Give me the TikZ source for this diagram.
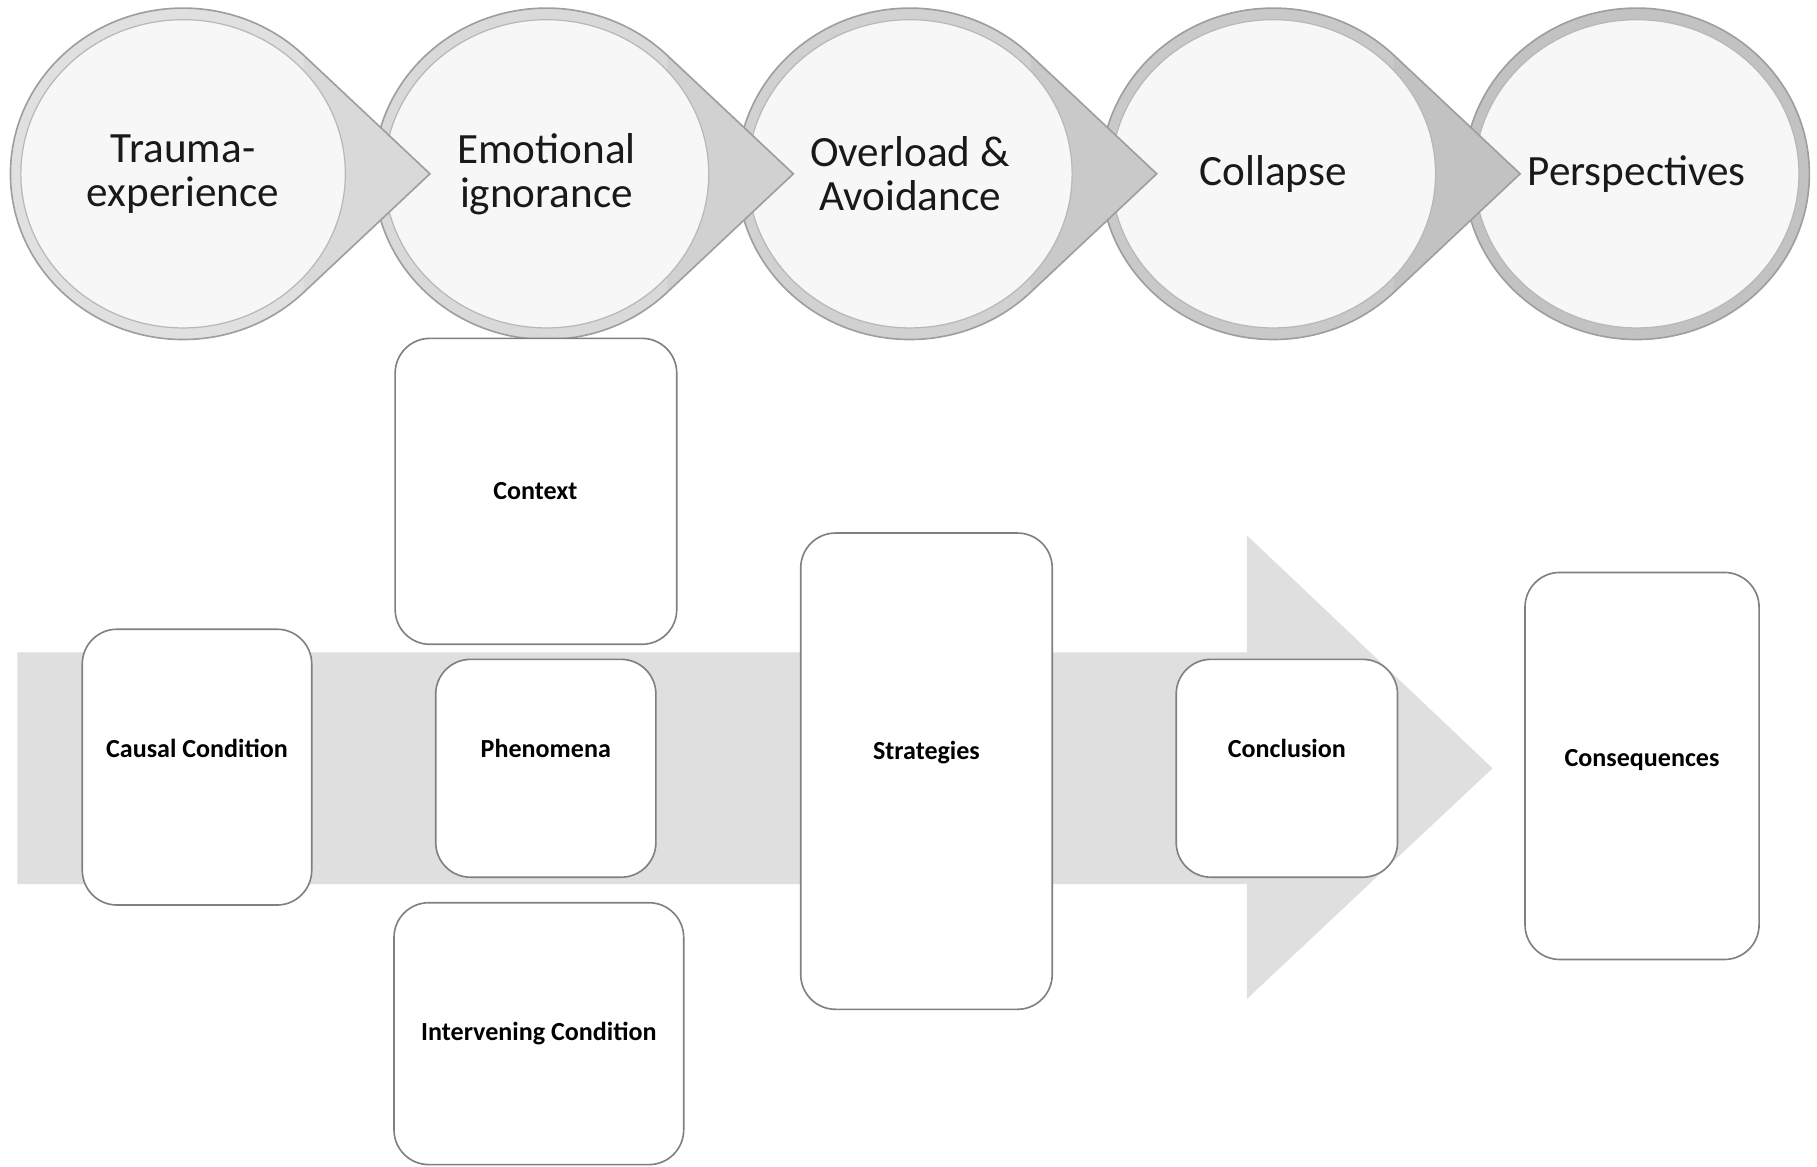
\documentclass[tikz,border=0pt]{standalone}
\usepackage{fontspec}
\setmainfont{Carlito}
\usetikzlibrary{positioning}

\tikzset{
  stage/.style={align=center, text=black!90, font=\fontsize{10.6}{10.8}\selectfont},
  card/.style={draw=black!50, line width=0.4pt, fill=white, rounded corners=0.3cm},
  cardtext/.style={text=black, font=\bfseries\fontsize{6.4}{7.7}\selectfont},
}

\begin{document}
\begin{tikzpicture}
\useasboundingbox (0,0) rectangle (15.68,10.07);

% stages on top, drawn from right to left so that every pointer lies over the next bubble
\foreach \i/\txt/\nm in {4/{Perspectives}/persp, 3/{Collapse}/collapse, 2/{Overload \&\\Avoidance}/overload, 1/{Emotional\\ignorance}/ignorance, 0/{Trauma-\\experience}/trauma}{
  \pgfmathsetmacro{\ring}{12+3*\i}
  \pgfmathsetmacro{\tip}{15+3*\i}
  \begin{scope}[shift={(1.58+3.136*\i,8.57)}]
    \ifnum\i<4
      \fill[black!\ring] (2.13,0) -- (45.6:1.49 and 1.43) arc[start angle=45.6, end angle=314.4, x radius=1.49, y radius=1.43] -- cycle;
      \fill[black!\tip] (2.13,0) -- (45.6:1.49 and 1.43) -- (-45.6:1.49 and 1.43) -- cycle;
      \draw[black!38, line width=0.4pt] (2.13,0) -- (45.6:1.49 and 1.43) arc[start angle=45.6, end angle=314.4, x radius=1.49, y radius=1.43] -- cycle;
    \else
      \filldraw[fill=black!\ring, draw=black!38, line width=0.4pt] (0,0) ellipse [x radius=1.49, y radius=1.43];
    \fi
    \filldraw[fill=black!3, draw=black!28, line width=0.3pt] (0,0) ellipse [x radius=1.40, y radius=1.33];
    \node[stage] (\nm) at (0,0) {\txt};
  \end{scope}
}

% the broad arrow behind the cards
\fill[black!12.5] (0.15,2.44) -- (10.76,2.44) -- (10.76,1.45) -- (12.88,3.44)
  -- (10.76,5.45) -- (10.76,4.44) -- (0.15,4.44) -- cycle;

% cards
\node[card, minimum width=1.98cm, minimum height=2.38cm] (causal) at (1.70,3.45) {};
\node[card, minimum width=2.43cm, minimum height=2.64cm] (context) at (4.625,5.83) {};
\node[card, minimum width=1.90cm, minimum height=1.88cm] (phenom) at (4.71,3.44) {};
\node[card, minimum width=2.50cm, minimum height=2.26cm] (interv) at (4.65,1.15) {};
\node[card, minimum width=2.17cm, minimum height=4.11cm] (strat) at (7.995,3.415) {};
\node[card, minimum width=1.91cm, minimum height=1.88cm] (concl) at (11.105,3.44) {};
\node[card, minimum width=2.02cm, minimum height=3.34cm] (conseq) at (14.17,3.46) {};

\node[cardtext] (causaltxt) at ([yshift=0.16cm]causal.center) {Causal Condition};
\node[cardtext] (contexttxt) at ([xshift=-0.005cm]context.center) {Context};
\node[cardtext] (phenomtxt) at ([yshift=0.17cm]phenom.center) {Phenomena};
\node[cardtext] (intervtxt) at (interv.center) {Intervening Condition};
\node[cardtext] (strattxt) at ([yshift=0.165cm]strat.center) {Strategies};
\node[cardtext] (concltxt) at ([yshift=0.17cm]concl.center) {Conclusion};
\node[cardtext] (conseqtxt) at ([yshift=0.05cm]conseq.center) {Consequences};

\end{tikzpicture}
\end{document}
